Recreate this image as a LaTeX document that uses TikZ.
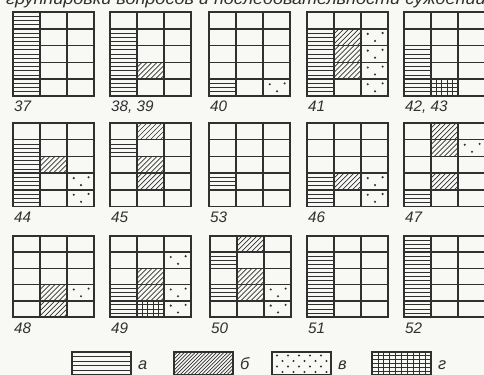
\documentclass[tikz,border=0pt]{standalone}
\usepackage{fontspec}
\setmainfont{Liberation Sans}

\definecolor{ink}{RGB}{48,48,48}
\definecolor{paper}{RGB}{248,248,245}

\tikzset{
  grid line/.style={draw=ink, line width=1.3pt},
  patt/.style={draw=ink, line width=0.6pt},
  num/.style={font=\fontsize{13}{13}\selectfont\itshape, text=ink, inner sep=0pt, anchor=base west},
  key/.style={font=\fontsize{14}{14}\selectfont\itshape, text=ink, inner sep=0pt, anchor=base west},
}

\newcommand{\cw}{27}
\newcommand{\rh}{16.8}
\newcommand{\lw}{59}

% fills of a rectangle: x, y, w, h, lines/step
\newcommand{\fillH}[5]{%
  \foreach \k in {1,...,#5}
    \draw[patt] ({#1},{#2+\k*(#4)/(#5+1)}) -- ++({#3},0);}
\newcommand{\fillD}[5]{%
  \begin{scope}
    \clip ({#1},{#2}) rectangle ++({#3},{#4});
    \foreach \k in {0,...,30}
      \draw[patt] ({#1-(#4)+\k*(#5)},{#2+#4}) -- ++({#4},{-(#4)});
  \end{scope}}
\newcommand{\fillG}[6]{%
  \fillH{#1}{#2}{#3}{#4}{#5}
  \begin{scope}
    \clip ({#1},{#2}) rectangle ++({#3},{#4});
    \foreach \k in {1,...,20}
      \draw[patt] ({#1+\k*(#6)},{#2}) -- ++(0,{#4});
  \end{scope}}

% cells: column, row
\newcommand{\cellA}[2]{\fillH{(#1-1)*\cw}{(#2-1)*\rh}{\cw}{\rh}{3}}
\newcommand{\cellB}[2]{\fillD{(#1-1)*\cw}{(#2-1)*\rh}{\cw}{\rh}{5}}
\newcommand{\cellG}[2]{\fillG{(#1-1)*\cw}{(#2-1)*\rh}{\cw}{\rh}{3}{5.4}}
\newcommand{\cellV}[2]{%
  \foreach \px/\py in {0.25/0.3,0.8/0.25,0.52/0.72}
    \fill[ink] ({(#1-1+\px)*\cw},{(#2-1+\py)*\rh}) circle[radius=1pt];}

\newcommand{\panel}[5]{%
  \begin{scope}[shift={(#1,#2)}]
    #5
    \draw[grid line] (0,0) rectangle ({3*\cw},{5*\rh});
    \foreach \i in {1,2} \draw[grid line] ({\i*\cw},0) -- ({\i*\cw},{5*\rh});
    \foreach \j in {1,...,4} \draw[grid line] (0,{\j*\rh}) -- ({3*\cw},{\j*\rh});
    \node[num] (#3) at (1,{5*\rh+16}) {#4};
  \end{scope}}

\newcommand{\keybox}[4]{%
  \begin{scope}[shift={(#1,352)}]
    #4
    \draw[grid line] (0,0) rectangle (\lw,23);
    \node[key] (#2) at ({\lw+7},17) {#3};
  \end{scope}}

\begin{document}
\begin{tikzpicture}[x=0.03cm, y=-0.03cm]
\fill[paper] (0,0) rectangle (484,375);
\useasboundingbox (0,0) rectangle (484,375);

\node[font=\fontsize{14}{14}\selectfont\itshape, text=ink, anchor=base, inner sep=0pt, xscale=1.1] (title)
  at (246,5) {группировки вопросов и последовательности суждений};

\panel{13}{12}{p37}{37}{\foreach \r in {1,...,5} {\cellA{1}{\r}}}
\panel{110}{12}{p38}{38, 39}{\foreach \r in {2,...,5} {\cellA{1}{\r}} \cellB{2}{4}}
\panel{209}{12}{p40}{40}{\cellA{1}{5} \cellV{3}{5}}
\panel{307}{12}{p41}{41}{\foreach \r in {2,...,5} {\cellA{1}{\r} \cellV{3}{\r}}
  \foreach \r in {2,3,4} {\cellB{2}{\r}}}
\panel{404}{12}{p42}{42, 43}{\foreach \r in {3,4,5} {\cellA{1}{\r}} \cellG{2}{5}}

\renewcommand{\rh}{16.7}
\panel{13}{123}{p44}{44}{\foreach \r in {2,...,5} {\cellA{1}{\r}} \cellB{2}{3} \cellV{3}{4} \cellV{3}{5}}
\panel{110}{123}{p45}{45}{\cellA{1}{2} \cellB{2}{1} \cellB{2}{3} \cellB{2}{4}}
\panel{209}{123}{p53}{53}{\cellA{1}{4}}
\panel{307}{123}{p46}{46}{\cellA{1}{4} \cellA{1}{5} \cellB{2}{4} \cellV{3}{4} \cellV{3}{5}}
\panel{404}{123}{p47}{47}{\cellB{2}{1} \cellB{2}{2} \cellB{2}{4} \cellV{3}{2} \cellA{1}{5}}

\renewcommand{\rh}{16.2}
\panel{13}{236}{p48}{48}{\cellB{2}{4} \cellB{2}{5} \cellV{3}{4}}
\panel{110}{236}{p49}{49}{\cellV{3}{2} \cellB{2}{3} \cellB{2}{4} \cellA{1}{4} \cellA{1}{5}
  \cellG{2}{5} \cellV{3}{4} \cellV{3}{5}}
\panel{210}{236}{p50}{50}{\cellA{1}{2} \cellA{1}{4} \cellB{2}{1} \cellB{2}{3} \cellB{2}{4}
  \cellV{3}{4} \cellV{3}{5}}
\panel{307}{236}{p51}{51}{\foreach \r in {2,...,5} {\cellA{1}{\r}}}
\panel{404}{236}{p52}{52}{\foreach \r in {1,...,5} {\cellA{1}{\r}}}

\keybox{72}{ka}{а}{\fillH{0}{0}{\lw}{23}{4}}
\keybox{174}{kb}{б}{\fillD{0}{0}{\lw}{23}{3.6}}
\keybox{272}{kv}{в}{\foreach \kr in {0,...,3} \foreach \kc in {0,...,4}
  {\fill[ink] ({5+\kc*11+mod(\kr,2)*5.5},{3.5+\kr*5.5}) circle[radius=0.9pt];}}
\keybox{372}{kg}{г}{\fillG{0}{0}{\lw}{23}{5}{5.9}}
\end{tikzpicture}
\end{document}
